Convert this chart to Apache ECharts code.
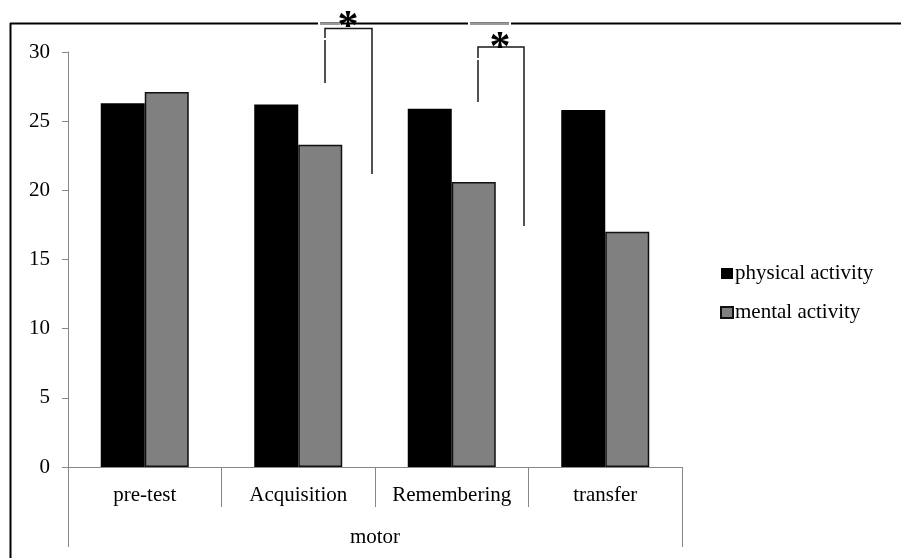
<!DOCTYPE html>
<html>
<head>
<meta charset="utf-8">
<script src="https://cdn.jsdelivr.net/npm/echarts@6/dist/echarts.min.js"></script>
<style>
  html, body { margin: 0; padding: 0; background: #fff; }
  #chart { width: 901px; height: 558px; }
</style>
</head>
<body>
<div id="chart"></div>
<script>
// categories and values
var categories = ['pre-test', 'Acquisition', 'Remembering', 'transfer'];
var groupLabel = ['motor'];
var seriesNames = ['physical activity', 'mental activity'];
var physicalActivity = [26.3, 26.2, 25.9, 25.8];
var mentalActivity = [27.1, 23.3, 20.6, 17.0];
var yTicks = { min: 0, max: 30, step: 5 };

var fontFam = '"Liberation Serif", "Times New Roman", serif';
var axisGrey = '#878787';
var fs = 21;

var chart = echarts.init(document.getElementById('chart'), null, { renderer: 'canvas' });

// significance brackets + the frame around the figure (annotations only)
function bracket(x1, x2, yTop, yLeft, yRight) {
    return [
        { type: 'polyline', shape: { points: [[x1, yLeft], [x1, yTop], [x2, yTop], [x2, yRight]] },
          style: { stroke: '#1a1a1a', lineWidth: 1.5, fill: null }, z: 10 }
    ];
}

var graphics = [
    // frame
    { type: 'line', shape: { x1: 10, y1: 23.5, x2: 901, y2: 23.5 }, style: { stroke: '#000', lineWidth: 2 }, z: 5 },
    { type: 'line', shape: { x1: 10.5, y1: 23, x2: 10.5, y2: 558 }, style: { stroke: '#000', lineWidth: 2 }, z: 5 },
    // lighter bits of the frame where the marks sit
    { type: 'line', shape: { x1: 320, y1: 24, x2: 340, y2: 24 }, style: { stroke: '#9a9a9a', lineWidth: 2 }, z: 6 },
    { type: 'line', shape: { x1: 470, y1: 24, x2: 509, y2: 24 }, style: { stroke: '#9a9a9a', lineWidth: 2 }, z: 6 },
    { type: 'rect', shape: { x: 318, y: 21, width: 2, height: 5 }, style: { fill: '#fff' }, z: 7 },
    { type: 'rect', shape: { x: 340, y: 21, width: 2, height: 5 }, style: { fill: '#fff' }, z: 7 },
    { type: 'rect', shape: { x: 468, y: 21, width: 2, height: 5 }, style: { fill: '#fff' }, z: 7 },
    { type: 'rect', shape: { x: 509, y: 21, width: 2, height: 5 }, style: { fill: '#fff' }, z: 7 }
]
    .concat(bracket(325, 372, 28.5, 83, 174))
    .concat(bracket(478, 524, 47, 102, 226))
    .concat([
        // small breaks in the left legs
        { type: 'rect', shape: { x: 323, y: 38, width: 4, height: 2 }, style: { fill: '#fff' }, z: 11 },
        { type: 'rect', shape: { x: 476, y: 58, width: 4, height: 2 }, style: { fill: '#fff' }, z: 11 },
        { type: 'text', style: { text: '*', x: 348, y: 28, fill: '#000', font: 'bold 42px ' + fontFam,
            textAlign: 'center', textVerticalAlign: 'middle' }, z: 12 },
        { type: 'text', style: { text: '*', x: 500, y: 49, fill: '#000', font: 'bold 42px ' + fontFam,
            textAlign: 'center', textVerticalAlign: 'middle' }, z: 12 }
    ]);

var option = {
    animation: false,
    backgroundColor: '#fff',
    textStyle: { fontFamily: fontFam, color: '#000' },
    grid: { left: 68, right: 219, top: 52, bottom: 91, containLabel: false },
    legend: {
        orient: 'vertical',
        left: 720,
        top: 263,
        padding: 0,
        itemWidth: 12,
        itemHeight: 11,
        itemGap: 18,
        icon: 'rect',
        textStyle: { fontFamily: fontFam, fontSize: fs, color: '#000', padding: [0, 0, 0, -3] },
        data: seriesNames
    },
    xAxis: [
        {
            type: 'category',
            data: categories,
            position: 'bottom',
            axisLine: { lineStyle: { color: axisGrey, width: 1 } },
            axisTick: { show: true, interval: 0, length: 40, alignWithLabel: false, lineStyle: { color: axisGrey } },
            axisLabel: { interval: 0, hideOverlap: false, margin: 18, fontSize: fs, color: '#000', fontFamily: fontFam }
        },
        {
            type: 'category',
            data: groupLabel,
            position: 'bottom',
            axisLine: { show: false },
            axisTick: { show: true, interval: 0, length: 80, lineStyle: { color: axisGrey } },
            axisLabel: { interval: 0, margin: 60, fontSize: fs, color: '#000', fontFamily: fontFam }
        }
    ],
    yAxis: {
        type: 'value',
        min: yTicks.min,
        max: yTicks.max,
        interval: yTicks.step,
        axisLine: { show: true, lineStyle: { color: axisGrey, width: 1 } },
        axisTick: { show: true, length: 6, lineStyle: { color: axisGrey } },
        splitLine: { show: false },
        axisLabel: { margin: 18, fontSize: fs, color: '#000', fontFamily: fontFam }
    },
    series: [
        {
            name: seriesNames[0],
            type: 'bar',
            xAxisIndex: 0,
            data: physicalActivity,
            barWidth: 44,
            barGap: '0%',
            itemStyle: { color: '#000', borderColor: '#000', borderWidth: 0 }
        },
        {
            name: seriesNames[1],
            type: 'bar',
            xAxisIndex: 0,
            data: mentalActivity,
            barWidth: 44,
            barGap: '0%',
            itemStyle: { color: '#808080', borderColor: '#111', borderWidth: 1.5 }
        }
    ],
    graphic: graphics
};

chart.setOption(option);
</script>
</body>
</html>
